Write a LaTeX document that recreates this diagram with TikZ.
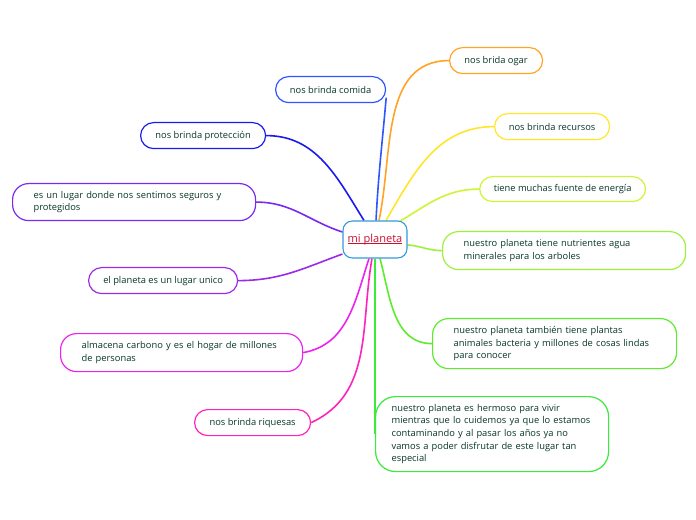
\documentclass[tikz,border=0pt]{standalone}
\usepackage{fontspec}
\setmainfont{Open Sans}
\usetikzlibrary{backgrounds}
\definecolor{txt}{HTML}{08372A}
\definecolor{cblue}{HTML}{2F55FF}
\definecolor{cdblue}{HTML}{1A1AEE}
\definecolor{cviolet}{HTML}{7A2AF0}
\definecolor{cpurple}{HTML}{9A2AE8}
\definecolor{cmag}{HTML}{EE22EE}
\definecolor{cpink}{HTML}{FF22BB}
\definecolor{corange}{HTML}{FFA424}
\definecolor{cyellow}{HTML}{FFE628}
\definecolor{cyg}{HTML}{CCF533}
\definecolor{clg}{HTML}{9CF23A}
\definecolor{cgreen}{HTML}{5CEB2E}
\definecolor{cgreen2}{HTML}{3AEB3A}
\definecolor{ccenter}{HTML}{3399DD}
\definecolor{cred}{HTML}{CC1133}
\newcommand\myul[1]{\setbox0\hbox{#1}\rlap{\rule[-1.3pt]{\wd0}{0.55pt}}\box0}
\tikzset{
  leaf/.style={draw, line width=0.9pt, fill=white, text=txt, anchor=north west,
    font=\fontsize{7}{9.5}\selectfont, inner ysep=0pt},
  pill/.style={leaf, rounded corners=9.75pt, align=center, inner xsep=0pt},
  box/.style={leaf, rounded corners=12pt, align=left, inner xsep=15.75pt, text width=150.75pt},
  link/.style={line width=1.2pt},
}
\begin{document}
\begin{tikzpicture}[x=0.75pt,y=-0.75pt]
\useasboundingbox (0,0) rectangle (696,520);
% central node
\node[draw=ccenter, line width=0.8pt, fill=white, rounded corners=7pt,
  minimum width=48pt, minimum height=27.75pt, inner sep=0pt,
  font=\fontsize{8.3}{10}\selectfont, text=cred] (c) at (375,239.5) {\myul{mi planeta}};
% left side
\node[pill, draw=cblue, minimum width=82.5pt, minimum height=19.5pt] (n1) at (275,76) {nos brinda comida};
\node[pill, draw=cdblue, minimum width=93.75pt, minimum height=19.5pt] (n2) at (140,122) {nos brinda protección};
\node[box, draw=cviolet, minimum width=182.25pt, minimum height=27.75pt] (n3) at (12,183) {es un lugar donde nos sentimos seguros y\\protegidos};
\node[pill, draw=cpurple, minimum width=111.75pt, minimum height=19.5pt] (n4) at (88,267) {el planeta es un lugar unico};
\node[box, draw=cmag, minimum width=181.5pt, minimum height=28.5pt, text width=150pt] (n5) at (60,333) {almacena carbono y es el hogar de millones\\de personas};
\node[pill, draw=cpink, minimum width=87pt, minimum height=19.5pt] (n6) at (194,409) {nos brinda riquesas};
% right side
\node[pill, draw=corange, minimum width=69.75pt, minimum height=19.5pt] (n7) at (449,47) {nos brida ogar};
\node[pill, draw=cyellow, minimum width=86.25pt, minimum height=19.5pt] (n8) at (494,113) {nos brinda recursos};
\node[pill, draw=cyg, minimum width=124.5pt, minimum height=18.75pt] (n9) at (479,176) {tiene muchas fuente de energía};
\node[box, draw=clg, minimum width=182.25pt, minimum height=28.5pt] (n10) at (442,231) {nuestro planeta tiene nutrientes agua\\minerales para los arboles};
\node[box, draw=cgreen, minimum width=183pt, minimum height=37.5pt, text width=151.5pt] (n11) at (432,318) {nuestro planeta también tiene plantas\\animales bacteria y millones de cosas lindas\\para conocer};
\node[box, draw=cgreen2, rounded corners=15pt, minimum width=174.75pt, minimum height=56.25pt, inner xsep=12pt] (n12) at (375,396) {nuestro planeta es hermoso para vivir\\mientras que lo cuidemos ya que lo estamos\\contaminando y al pasar los años ya no\\vamos a poder disfrutar de este lugar tan\\especial};
% connectors
\begin{pgfonlayer}{background}
\draw[link, cblue] ([xshift=0.75pt]c.north) to[out=87,in=-95] ([yshift=-6pt]n1.east);
\draw[link, cdblue] ([xshift=-8.25pt]c.north) to[out=122,in=0] (n2.east);
\draw[link, cviolet] ([yshift=5.6pt]c.west) to[out=162,in=0] (n3.east);
\draw[link, cpurple] ([yshift=-10.9pt]c.west) to[out=200,in=0] (n4.east);
\draw[link, cmag] ([xshift=-4.5pt]c.south) to[out=-108,in=10] (n5.east);
\draw[link, cpink] ([xshift=-2.25pt]c.south) to[out=-100,in=25] (n6.east);
\draw[link, corange] ([xshift=3pt]c.north) to[out=78,in=180] (n7.west);
\draw[link, cyellow] ([xshift=8.25pt]c.north) to[out=60,in=180] (n8.west);
\draw[link, cyg] ([xshift=17pt,yshift=-1.5pt]c.north) to[out=30,in=180] (n9.west);
\draw[link, clg] ([yshift=-4pt]c.east) to[out=-5,in=180] (n10.west);
\draw[link, cgreen] ([xshift=3.75pt]c.south) to[out=-75,in=180] (n11.west);
\draw[link, cgreen2] (c.south) -- (n12.west);
\end{pgfonlayer}
\end{tikzpicture}
\end{document}
